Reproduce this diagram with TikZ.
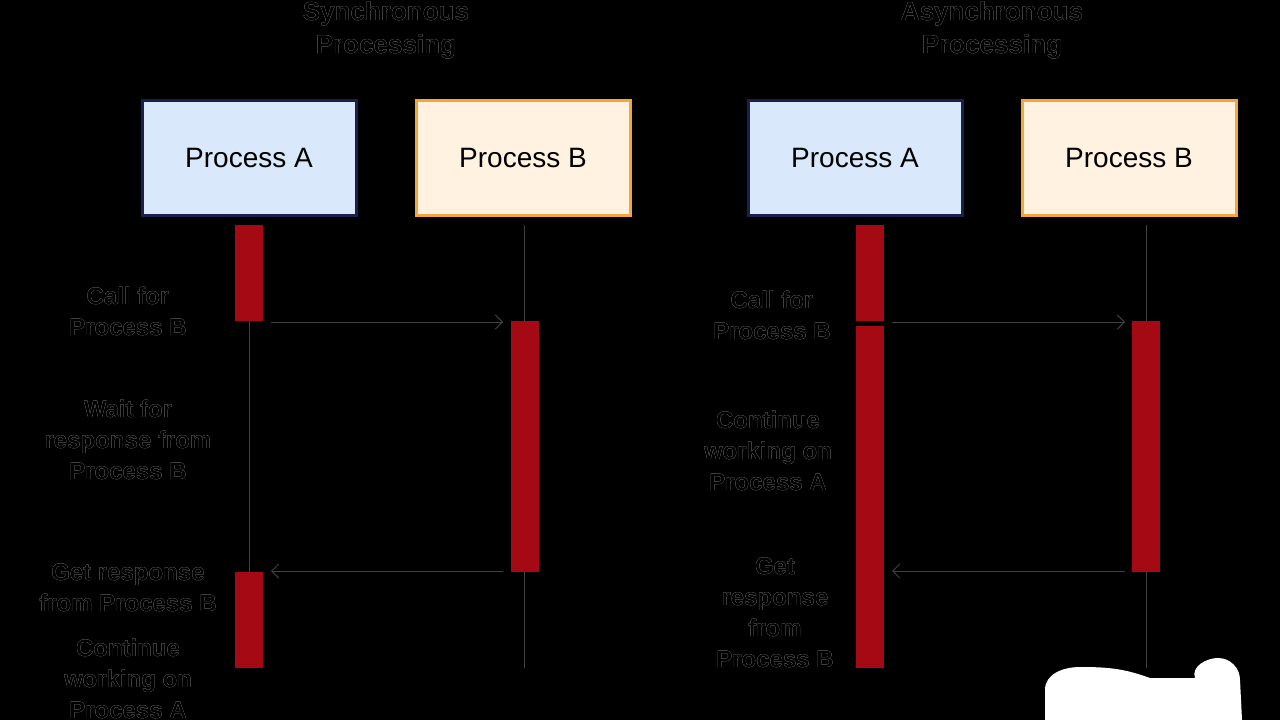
\documentclass[tikz,border=0pt]{standalone}
\usepackage{fontspec}
\setmainfont{Liberation Sans}
\usepackage[outline]{contour}
\contourlength{0.7pt}
\usetikzlibrary{arrows.meta}
\definecolor{barred}{HTML}{A50A14}
\definecolor{blueF}{HTML}{DAE8FC}
\definecolor{blueD}{HTML}{1A1F4B}
\definecolor{orF}{HTML}{FFF2E0}
\definecolor{orD}{HTML}{F5A53A}
\begin{document}
\begin{tikzpicture}[x=1pt,y=-1pt,
 lbl/.style={font=\bfseries\fontsize{24}{31}\selectfont,align=center,text=black},
 ttl/.style={font=\bfseries\fontsize{26}{33}\selectfont,align=center,text=black},
 pbox/.style={minimum width=214pt,minimum height=115pt,line width=3pt,font=\fontsize{28}{32}\selectfont},
 bar/.style={fill=barred,draw=none},
 life/.style={draw=black!75,line width=1pt},
 msg/.style={draw=black!75,line width=1pt,-{Straight Barb[length=7pt,width=14pt]}}]
\fill[black] (0,0) rectangle (1280,720);
\useasboundingbox (0,0) rectangle (1280,720);
% titles
\node[ttl] (t1) at (386,30) {\contour{white}{Synchronous}\\\contour{white}{Processing}};
\node[ttl] (t2) at (992,30) {\contour{white}{Asynchronous}\\\contour{white}{Processing}};
% boxes
\node[pbox,fill=blueF,draw=blueD] (a1) at (249,158) {Process A};
\node[pbox,fill=orF,draw=orD] (b1) at (523,158) {Process B};
\node[pbox,fill=blueF,draw=blueD] (a2) at (855,158) {Process A};
\node[pbox,fill=orF,draw=orD] (b2) at (1129,158) {Process B};
% left lifelines
\coordinate (bl1) at (524,225); \coordinate (bl2) at (524,668);
\draw[life] (bl1) -- (bl2);
\coordinate (al1) at (249,321); \coordinate (al2) at (249,572);
\draw[life] (al1) -- (al2);
\fill[bar] (235,225) rectangle (263,321);
\fill[bar] (511,321) rectangle (539,572);
\fill[bar] (235,572) rectangle (263,668);
\coordinate (m1s) at (271,322); \coordinate (m1e) at (503,322);
\coordinate (m2s) at (503,571); \coordinate (m2e) at (271,571);
\draw[msg] (m1s) -- (m1e);
\draw[msg] (m2s) -- (m2e);
% right
\coordinate (br1) at (1146,225); \coordinate (br2) at (1146,668);
\draw[life] (br1) -- (br2);
\fill[bar] (856,225) rectangle (884,321);
\fill[bar] (856,326) rectangle (884,668);
\fill[bar] (1132,321) rectangle (1160,572);
\coordinate (m3s) at (892,322); \coordinate (m3e) at (1125,322);
\coordinate (m4s) at (1125,571); \coordinate (m4e) at (892,571);
\draw[msg] (m3s) -- (m3e);
\draw[msg] (m4s) -- (m4e);
% labels
\node[lbl] (l1) at (128,311) {\contour{white}{Call for}\\\contour{white}{Process B}};
\node[lbl] (l2) at (128,440) {\contour{white}{Wait for}\\\contour{white}{response from}\\\contour{white}{Process B}};
\node[lbl] (l3) at (128,588) {\contour{white}{Get response}\\\contour{white}{from Process B}};
\node[lbl] (l4) at (128,679) {\contour{white}{Continue}\\\contour{white}{working on}\\\contour{white}{Process A}};
\node[lbl] (l5) at (772,315) {\contour{white}{Call for}\\\contour{white}{Process B}};
\node[lbl] (l6) at (768,451) {\contour{white}{Continue}\\\contour{white}{working on}\\\contour{white}{Process A}};
\node[lbl] (l7) at (775,613) {\contour{white}{Get}\\\contour{white}{response}\\\contour{white}{from}\\\contour{white}{Process B}};
% white blob
\fill[white] (1045,720) -- (1045,690) to[out=90,in=180] (1080,667) to[out=0,in=160] (1150,678) -- (1195,678) to[out=110,in=180] (1218,658) to[out=0,in=90] (1240,680) -- (1242,720) -- cycle;
\end{tikzpicture}
\end{document}
